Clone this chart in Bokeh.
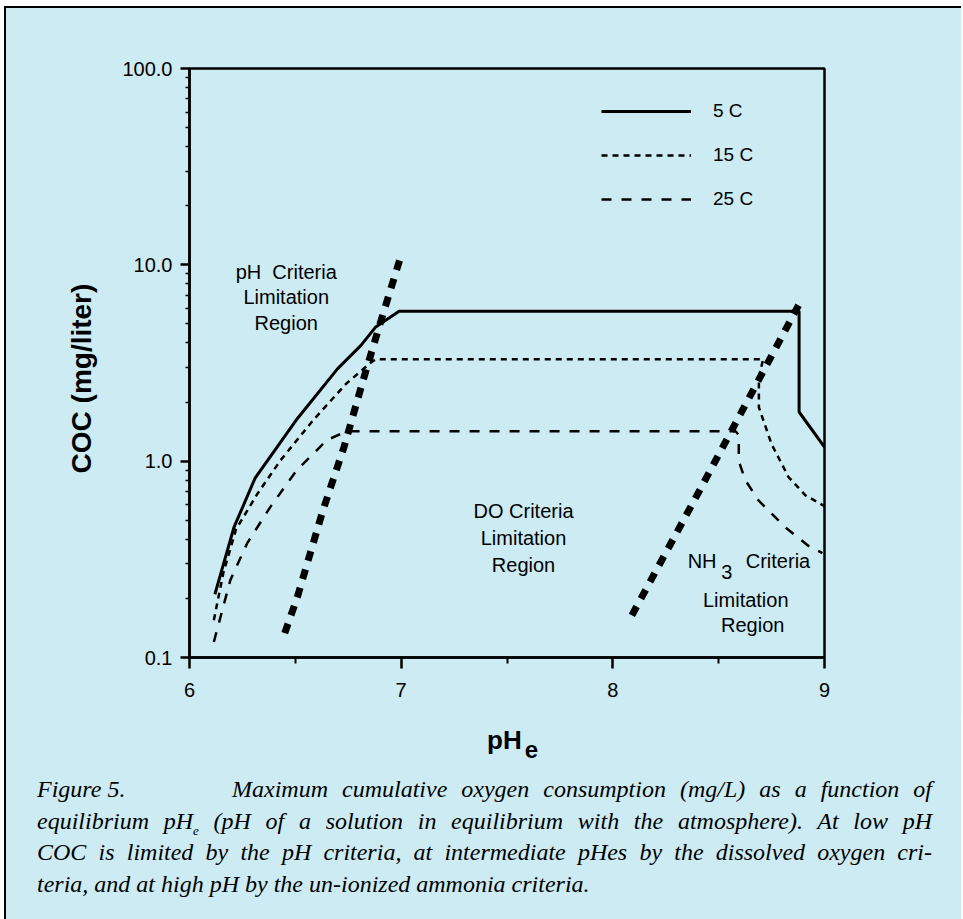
from bokeh.plotting import figure
from bokeh.models import (Legend, LegendItem, Label, FixedTicker, CustomJSTickFormatter, Div)
from bokeh.layouts import column
from bokeh.embed import file_html
from bokeh.resources import INLINE

# ---- data ----
ph_5c = [6.12, 6.21, 6.31, 6.51, 6.70, 6.81, 6.88, 6.99, 8.88, 8.88, 9.00]
coc_5c = [0.21, 0.46, 0.82, 1.65, 2.96, 3.89, 4.83, 5.80, 5.80, 1.78, 1.18]

ph_15c = [6.115, 6.16, 6.22, 6.32, 6.43, 6.585, 6.74, 6.86, 6.88, 8.71, 8.69, 8.69, 8.75, 8.83, 8.91, 9.00]
coc_15c = [0.155, 0.27, 0.45, 0.68, 1.01, 1.62, 2.48, 3.20, 3.30, 3.30, 2.68, 1.88, 1.22, 0.83, 0.67, 0.59]

ph_25c = [6.115, 6.193, 6.272, 6.382, 6.507, 6.649, 6.742, 8.58, 8.595, 8.595, 8.626, 8.689, 8.815, 8.925, 8.99]
coc_25c = [0.12, 0.248, 0.381, 0.585, 0.90, 1.28, 1.42, 1.42, 1.36, 1.00, 0.80, 0.63, 0.46, 0.37, 0.34]

ph_ph_crit = [6.45, 6.51, 6.63, 6.73, 6.82, 6.90, 7.00]
coc_ph_crit = [0.133, 0.204, 0.56, 1.18, 2.58, 5.0, 11.2]

ph_nh3_crit = [8.09, 8.41, 8.89]
coc_nh3_crit = [0.164, 0.71, 6.6]

legend_labels = ["5 C", "15 C", "25 C"]
x_ticks = [6, 7, 8, 9]
x_minor = [6.5, 7.5, 8.5]
y_ticks = [0.1, 1, 10, 100]
y_minor = [m * d for d in (0.1, 1, 10) for m in range(2, 10)]

BG = "#CDEBF2"
SANS = "Liberation Sans"

p = figure(frame_width=637, frame_height=589, y_axis_type="log",
           x_range=(6, 9), y_range=(0.1, 100),
           min_border_left=183, min_border_right=137, min_border_top=60, min_border_bottom=58,
           output_backend="svg", toolbar_location=None)
p.background_fill_color = BG
p.border_fill_color = BG
p.outline_line_color = "black"
p.outline_line_width = 2.5
p.xgrid.visible = False
p.ygrid.visible = False

r5 = p.line(ph_5c, coc_5c, line_color="black", line_width=3)
r15 = p.line(ph_15c, coc_15c, line_color="black", line_width=2.5, line_dash="6 5")
r25 = p.line(ph_25c, coc_25c, line_color="black", line_width=2.5, line_dash="10 10")
p.line(ph_ph_crit, coc_ph_crit, line_color="black", line_width=7, line_dash="10 9")
p.line(ph_nh3_crit, coc_nh3_crit, line_color="black", line_width=7, line_dash="10 9")

# axes
p.xaxis.ticker = FixedTicker(ticks=x_ticks, minor_ticks=x_minor)
p.yaxis.ticker = FixedTicker(ticks=y_ticks, minor_ticks=y_minor)
p.yaxis.formatter = CustomJSTickFormatter(code="return tick.toFixed(1);")
for ax in (p.xaxis[0], p.yaxis[0]):
    ax.axis_line_width = 2.5
    ax.axis_line_color = "black"
    ax.major_tick_line_width = 2.5
    ax.major_tick_line_color = "black"
    ax.minor_tick_line_width = 2
    ax.minor_tick_line_color = "black"
    ax.major_tick_in = 0
    ax.minor_tick_in = 0
    ax.major_label_text_font = SANS
    ax.major_label_text_font_size = "20px"
    ax.major_label_text_color = "black"
p.xaxis.major_tick_out = 11
p.xaxis.minor_tick_out = 6
p.xaxis.major_label_standoff = 14
p.yaxis.major_tick_out = 9
p.yaxis.minor_tick_out = 4
p.yaxis.minor_tick_line_width = 1.5
p.yaxis.major_label_standoff = 8

p.yaxis.axis_label = "COC (mg/liter)\u00a0\u00a0\u00a0\u00a0"
p.yaxis.axis_label_text_font = SANS
p.yaxis.axis_label_text_font_style = "bold"
p.yaxis.axis_label_text_font_size = "28px"
p.yaxis.axis_label_text_color = "black"
p.yaxis.axis_label_standoff = 22

# region annotations
def note(x, y, t, size="20px", align="center"):
    p.add_layout(Label(x=x, y=y, text=t, text_align=align, text_baseline="middle",
                       text_font=SANS, text_font_size=size, text_color="black"))

note(6.457, 9.2, "pH\u00a0 Criteria")
note(6.457, 6.84, "Limitation")
note(6.457, 5.03, "Region")
note(7.578, 0.557, "DO Criteria")
note(7.578, 0.405, "Limitation")
note(7.578, 0.296, "Region")
note(8.49, 0.31, "NH", align="right")
note(8.539, 0.272, "3")
note(8.628, 0.31, "Criteria", align="left")
note(8.628, 0.196, "Limitation")
note(8.661, 0.146, "Region")

legend = Legend(items=[LegendItem(label=legend_labels[0], renderers=[r5]),
                       LegendItem(label=legend_labels[1], renderers=[r15]),
                       LegendItem(label=legend_labels[2], renderers=[r25])],
                location=(412, 447), orientation="vertical",
                glyph_width=90, glyph_height=20, label_height=20, label_standoff=22,
                spacing=22, padding=0, margin=0,
                border_line_color=None, background_fill_alpha=0,
                label_text_font=SANS, label_text_font_size="19px", label_text_color="black")
p.add_layout(legend)

cap_style = ("font-family:'Liberation Serif','Times New Roman',serif;font-style:italic;"
             "font-size:24px;line-height:31.5px;color:#000;")
just = "text-align:justify;text-align-last:justify;"
html = (
    '<div style="position:relative;width:957px;height:194px;">'
    '<div style="position:absolute;left:476px;top:7px;white-space:nowrap;'
    f'font-family:{SANS},Arial,sans-serif;font-weight:bold;font-size:26px;line-height:26px;color:#000;">'
    'pH<span style="font-size:24px;position:relative;top:9px;margin-left:3px;">e</span></div>'
    f'<div style="position:absolute;left:26px;top:54px;width:895px;{cap_style}">'
    f'<div style="{just}"><span style="display:inline-block;width:195px;text-align:left;text-align-last:left;">Figure 5.</span>'
    'Maximum cumulative oxygen consumption (mg/L) as a function of</div>'
    f'<div style="{just}">equilibrium pH<span style="font-size:13px;vertical-align:-6px;line-height:0;">e</span> '
    '(pH of a solution in equilibrium with the atmosphere). At low pH</div>'
    f'<div style="{just}">COC is limited by the pH criteria, at intermediate pHes by the dissolved oxygen cri-</div>'
    '<div style="text-align:left;">teria, and at high pH by the un-ionized ammonia criteria.</div>'
    '</div></div>'
)
div = Div(text=html, width=957, height=194)

layout = column(p, div, width=957,
                styles={"background-color": BG, "border-left": "2px solid black",
                        "border-top": "2px solid black", "margin-left": "4px",
                        "margin-top": "6px"})

open("out.html", "w").write(file_html(layout, INLINE))
